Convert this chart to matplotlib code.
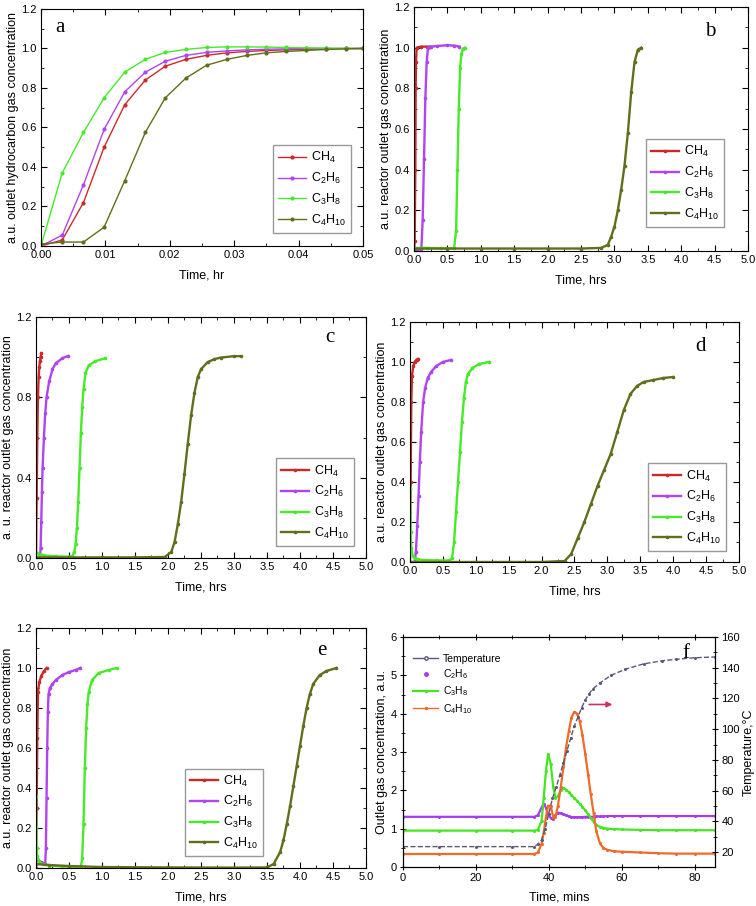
import matplotlib
matplotlib.use("Agg")
import matplotlib.pyplot as plt
from matplotlib.lines import Line2D
from matplotlib.ticker import MultipleLocator

plt.rcParams["font.family"] = ["Liberation Sans", "DejaVu Sans"]
plt.rcParams["mathtext.fontset"] = "custom"
plt.rcParams["mathtext.rm"] = "Liberation Sans"
plt.rcParams["mathtext.default"] = "regular"

LABELS = [r"CH$_4$", r"C$_2$H$_6$", r"C$_3$H$_8$", r"C$_4$H$_{10}$"]
COLORS = ["#cc2a2a", "#b144f0", "#47ea2a", "#5f6f1c"]

# ---- panel a ----
A_T = [0, 0.0033, 0.0066, 0.0098, 0.0130, 0.0162, 0.0193, 0.0225, 0.0257,
       0.0289, 0.0320, 0.0350, 0.0381, 0.0412, 0.0443, 0.0474, 0.05]
A_CH4 = [0.0, 0.03, 0.22, 0.50, 0.715, 0.84, 0.91, 0.945, 0.965, 0.978,
         0.985, 0.99, 0.993, 0.996, 0.998, 1.0, 1.0]
A_C2H6 = [0.0, 0.055, 0.31, 0.59, 0.78, 0.88, 0.935, 0.965, 0.98, 0.988,
          0.993, 0.996, 0.998, 1.0, 1.0, 1.0, 1.0]
A_C3H8 = [0.0, 0.37, 0.575, 0.75, 0.88, 0.945, 0.98, 0.995, 1.005, 1.008,
          1.008, 1.007, 1.005, 1.003, 1.002, 1.0, 1.0]
A_C4H10 = [0.01, 0.02, 0.02, 0.095, 0.33, 0.575, 0.75, 0.85, 0.915, 0.945,
           0.965, 0.978, 0.985, 0.99, 0.995, 0.998, 1.0]

# ---- panel b ----
B_CH4_T = [0, 0.01, 0.02, 0.025, 0.03, 0.04, 0.1, 0.2, 0.24]
B_CH4 = [0.0, 0.05, 0.4, 0.8, 0.93, 1.0, 1.005, 1.005, 1.005]
B_C2H6_T = [0, 0.05, 0.11, 0.13, 0.15, 0.17, 0.19, 0.21, 0.25, 0.35, 0.5, 0.6, 0.68]
B_C2H6 = [0.005, 0.005, 0.01, 0.15, 0.45, 0.75, 0.93, 1.0, 1.005, 1.008,
          1.012, 1.01, 1.005]
B_C3H8_T = [0, 0.2, 0.4, 0.6, 0.63, 0.65, 0.67, 0.69, 0.71, 0.73, 0.76]
B_C3H8 = [0.015, 0.015, 0.013, 0.013, 0.1, 0.4, 0.7, 0.9, 0.97, 0.995, 1.0]
B_C4H10_T = [0, 0.5, 1.0, 1.5, 2.0, 2.5, 2.8, 2.9, 2.95, 3.0, 3.05, 3.1,
             3.15, 3.2, 3.25, 3.3, 3.35, 3.4]
B_C4H10 = [0.012, 0.012, 0.012, 0.012, 0.012, 0.012, 0.015, 0.03, 0.07,
           0.12, 0.2, 0.3, 0.42, 0.58, 0.78, 0.93, 0.99, 1.0]

# ---- panel c ----
C_CH4_T = [0.0, 0.01, 0.02, 0.03, 0.04, 0.05, 0.06, 0.07, 0.08]
C_CH4 = [0.0, 0.3, 0.6, 0.8, 0.9, 0.95, 0.98, 1.0, 1.02]
C_C2H6_T = [0.06, 0.07, 0.08, 0.09, 0.1, 0.12, 0.14, 0.16, 0.2, 0.25, 0.3, 0.4, 0.48]
C_C2H6 = [0.0, 0.05, 0.18, 0.33, 0.45, 0.6, 0.72, 0.8, 0.88, 0.94, 0.97, 0.995, 1.005]
C_C3H8_T = [0, 0.05, 0.1, 0.2, 0.3, 0.4, 0.5, 0.55, 0.58, 0.6, 0.62, 0.64,
            0.66, 0.68, 0.7, 0.72, 0.75, 0.8, 0.9, 1.05]
C_C3H8 = [0.03, 0.02, 0.015, 0.01, 0.008, 0.007, 0.007, 0.01, 0.03, 0.07,
          0.15, 0.28, 0.45, 0.62, 0.75, 0.84, 0.92, 0.96, 0.98, 0.995]
C_C4H10_T = [0, 0.5, 1.0, 1.5, 1.95, 2.05, 2.1, 2.15, 2.2, 2.25, 2.3, 2.35,
             2.4, 2.45, 2.5, 2.6, 2.7, 2.8, 3.0, 3.1]
C_C4H10 = [0.003, 0.003, 0.003, 0.003, 0.005, 0.03, 0.08, 0.17, 0.28, 0.42,
           0.57, 0.71, 0.82, 0.9, 0.94, 0.975, 0.99, 0.998, 1.005, 1.005]

# ---- panel d ----
D_CH4_T = [0, 0.01, 0.02, 0.03, 0.05, 0.07, 0.1, 0.12]
D_CH4 = [0.0, 0.4, 0.8, 0.93, 0.98, 1.0, 1.012, 1.015]
D_C2H6_T = [0.07, 0.09, 0.11, 0.13, 0.15, 0.17, 0.2, 0.23, 0.27, 0.32, 0.4, 0.5, 0.62]
D_C2H6 = [0.0, 0.05, 0.18, 0.33, 0.5, 0.65, 0.8, 0.87, 0.92, 0.95, 0.98, 1.0, 1.01]
D_C3H8_T = [0.0, 0.005, 0.01, 0.02, 0.04, 0.07, 0.1, 0.2, 0.4, 0.6, 0.64,
            0.67, 0.7, 0.73, 0.76, 0.79, 0.82, 0.85, 0.88, 0.95, 1.05, 1.2]
D_C3H8 = [0.37, 0.25, 0.15, 0.07, 0.03, 0.02, 0.015, 0.01, 0.008, 0.008,
          0.02, 0.1, 0.25, 0.4, 0.55, 0.7, 0.82, 0.9, 0.94, 0.97, 0.99, 1.0]
D_C4H10_T = [0, 0.5, 1.0, 1.5, 2.0, 2.35, 2.45, 2.55, 2.65, 2.75, 2.85,
             2.95, 3.05, 3.15, 3.25, 3.35, 3.45, 3.55, 3.7, 3.85, 4.0]
D_C4H10 = [0.0, 0.0, 0.0, 0.0, 0.0, 0.005, 0.04, 0.12, 0.2, 0.29, 0.38,
           0.46, 0.54, 0.65, 0.76, 0.84, 0.88, 0.9, 0.91, 0.92, 0.925]

# ---- panel e ----
E_CH4_T = [0.0, 0.01, 0.02, 0.03, 0.05, 0.08, 0.12, 0.16]
E_CH4 = [0.0, 0.3, 0.65, 0.88, 0.93, 0.96, 0.985, 1.0]
E_C2H6_T = [0.0, 0.03, 0.07, 0.11, 0.14, 0.15, 0.16, 0.17, 0.18, 0.19,
            0.21, 0.25, 0.3, 0.4, 0.5, 0.6, 0.67]
E_C2H6 = [0.06, 0.04, 0.03, 0.025, 0.02, 0.1, 0.35, 0.6, 0.78, 0.87, 0.9,
          0.92, 0.94, 0.965, 0.98, 0.99, 1.0]
E_C3H8_T = [0.0, 0.005, 0.01, 0.02, 0.05, 0.1, 0.2, 0.4, 0.6, 0.68, 0.7,
            0.72, 0.74, 0.76, 0.78, 0.8, 0.85, 0.95, 1.1, 1.22]
E_C3H8 = [0.36, 0.2, 0.1, 0.06, 0.03, 0.02, 0.012, 0.008, 0.006, 0.008,
          0.05, 0.22, 0.5, 0.7, 0.82, 0.88, 0.94, 0.975, 0.99, 1.0]
E_C4H10_T = [0.0, 0.2, 0.5, 1.0, 2.0, 3.0, 3.5, 3.6, 3.7, 3.75, 3.8, 3.85,
             3.9, 3.95, 4.0, 4.05, 4.1, 4.15, 4.2, 4.3, 4.4, 4.55]
E_C4H10 = [0.02, 0.015, 0.01, 0.005, 0.003, 0.002, 0.003, 0.02, 0.08, 0.14,
           0.22, 0.31, 0.41, 0.51, 0.61, 0.71, 0.8, 0.87, 0.92, 0.965, 0.985, 1.0]

# ---- panel f ----
F_TEMP_T = [0, 10, 20, 30, 36, 37, 38, 39, 40, 41, 42, 43, 44, 45, 46, 47,
            48, 49, 50, 51, 52, 54, 57, 61, 66, 71, 75, 80, 85.5]
F_TEMP = [23.5, 23.5, 23.5, 23.5, 23.5, 25, 28, 35, 45, 55, 62, 70, 78, 86,
          94, 102, 108, 114, 119, 123, 126, 130, 135, 139, 142.5, 144.5,
          145.5, 146.5, 147]
F_T = [0, 10, 20, 30, 36, 37, 38, 38.6, 39.2, 39.8, 40.5, 41.2, 41.8, 42.5,
       43.3, 44, 44.7, 45.5, 46.2, 47, 47.8, 48.5, 49.2, 50, 50.8, 51.5,
       52.3, 53, 54, 55, 56, 58, 60, 65, 70, 75, 80, 85.5]
F_C2H6 = [1.31, 1.31, 1.31, 1.31, 1.31, 1.35, 1.55, 1.65, 1.55, 1.38, 1.28,
          1.25, 1.35, 1.42, 1.4, 1.38, 1.35, 1.32, 1.30, 1.30, 1.30, 1.30,
          1.30, 1.31, 1.31, 1.31, 1.31, 1.32, 1.32, 1.32, 1.33, 1.33, 1.33,
          1.33, 1.33, 1.33, 1.33, 1.33]
F_C3H8 = [0.95, 0.95, 0.95, 0.95, 0.95, 0.97, 1.2, 1.8, 2.5, 2.95, 2.7, 2.1,
          1.8, 1.85, 2.0, 2.07, 2.02, 1.95, 1.88, 1.8, 1.72, 1.65, 1.57, 1.48,
          1.38, 1.28, 1.18, 1.1, 1.05, 1.02, 1.0, 0.99, 0.98, 0.97, 0.96,
          0.96, 0.96, 0.96]
F_C4H10 = [0.34, 0.34, 0.34, 0.34, 0.34, 0.38, 0.6, 0.9, 1.3, 1.6, 1.6, 1.3,
           1.3, 1.6, 2.1, 2.6, 3.1, 3.55, 3.9, 4.05, 4.0, 3.8, 3.45, 2.95,
           2.4, 1.9, 1.4, 0.95, 0.62, 0.5, 0.45, 0.41, 0.4, 0.38, 0.36, 0.35,
           0.35, 0.35]

TICK_FS = 8
LABEL_FS = 9


def style_axes(ax, xmax, xmaj, xmin, ymaj, ymin, ymax=1.2):
    ax.set_xlim(0, xmax)
    ax.set_ylim(0, ymax)
    ax.xaxis.set_major_locator(MultipleLocator(xmaj))
    ax.xaxis.set_minor_locator(MultipleLocator(xmin))
    ax.yaxis.set_major_locator(MultipleLocator(ymaj))
    ax.yaxis.set_minor_locator(MultipleLocator(ymin))
    ax.tick_params(which="both", direction="in", top=True, right=True,
                   labelsize=TICK_FS, pad=3)
    ax.tick_params(which="major", length=4)
    ax.tick_params(which="minor", length=2)
    ax.xaxis.set_major_formatter(plt.FormatStrFormatter("%.1f"))
    ax.yaxis.set_major_formatter(plt.FormatStrFormatter("%.1f"))


def conc_panel(ax, series, letter, ylabel, xlabel, leg_anchor, letter_pos,
               lw=1.7, ms=1.6):
    for (t, y), lab, col in zip(series, LABELS, COLORS):
        ax.plot(t, y, "-", color=col, lw=lw, marker="o", ms=ms, label=lab)
    ax.set_xlabel(xlabel, fontsize=LABEL_FS, labelpad=7)
    ax.set_ylabel(ylabel, fontsize=LABEL_FS, labelpad=2)
    ax.legend(loc="lower right", bbox_to_anchor=leg_anchor, fontsize=9,
              fancybox=False, edgecolor="#808080", handlelength=2.2,
              borderpad=0.4, labelspacing=0.45, handletextpad=0.4)
    ax.text(letter_pos[0], letter_pos[1], letter, transform=ax.transAxes,
            family="Liberation Serif", fontsize=15, ha="center", va="center")


fig = plt.figure(figsize=(7.56, 9.06), dpi=100)

ax_a = fig.add_axes([0.0542, 0.7285, 0.426, 0.2616])
style_axes(ax_a, 0.05, 0.01, 0.005, 0.2, 0.1)
ax_a.xaxis.set_major_formatter(plt.FormatStrFormatter("%.2f"))
conc_panel(ax_a, [(A_T, A_CH4), (A_T, A_C2H6), (A_T, A_C3H8), (A_T, A_C4H10)],
           "a", "a.u. outlet hydrocarbon gas concentration", "Time, hr",
           (0.981, 0.03), (0.059, 0.92), lw=1.0, ms=2.0)

ax_b = fig.add_axes([0.5476, 0.7230, 0.4420, 0.2693])
style_axes(ax_b, 5.0, 0.5, 0.25, 0.2, 0.1)
conc_panel(ax_b, [(B_CH4_T, B_CH4), (B_C2H6_T, B_C2H6), (B_C3H8_T, B_C3H8),
                  (B_C4H10_T, B_C4H10)],
           "b", "a.u. reactor outlet gas concentration", "Time, hrs",
           (0.945, 0.074), (0.885, 0.898))

ax_c = fig.add_axes([0.0476, 0.3841, 0.4365, 0.2660])
style_axes(ax_c, 5.0, 0.5, 0.25, 0.4, 0.2)
conc_panel(ax_c, [(C_CH4_T, C_CH4), (C_C2H6_T, C_C2H6), (C_C3H8_T, C_C3H8),
                  (C_C4H10_T, C_C4H10)],
           "c", "a. u. reactor outlet gas concentration", "Time, hrs",
           (0.982, 0.025), (0.891, 0.913))

ax_d = fig.add_axes([0.5423, 0.3797, 0.4352, 0.2649])
style_axes(ax_d, 5.0, 0.5, 0.25, 0.2, 0.1)
conc_panel(ax_d, [(D_CH4_T, D_CH4), (D_C2H6_T, D_C2H6), (D_C3H8_T, D_C3H8),
                  (D_C4H10_T, D_C4H10)],
           "d", "a.u. reactor outlet gas concentration", "Time, hrs",
           (0.979, 0.021), (0.884, 0.896))

ax_e = fig.add_axes([0.0476, 0.0419, 0.4365, 0.2649])
style_axes(ax_e, 5.0, 0.5, 0.25, 0.2, 0.1)
conc_panel(ax_e, [(E_CH4_T, E_CH4), (E_C2H6_T, E_C2H6), (E_C3H8_T, E_C3H8),
                  (E_C4H10_T, E_C4H10)],
           "e", "a.u. reactor outlet gas concentration", "Time, hrs",
           (0.706, 0.025), (0.867, 0.908))

# ---- panel f: gases on left axis, temperature on right ----
ax_f = fig.add_axes([0.5331, 0.0430, 0.4127, 0.2539])
ax_f.set_xlim(0, 85.6)
ax_f.set_ylim(0, 6)
ax_f.xaxis.set_major_locator(MultipleLocator(20))
ax_f.xaxis.set_minor_locator(MultipleLocator(10))
ax_f.yaxis.set_major_locator(MultipleLocator(1))
ax_f.yaxis.set_minor_locator(MultipleLocator(0.5))
ax_f.tick_params(which="both", direction="inout", top=True, labelsize=TICK_FS, pad=2)
ax_f.tick_params(which="major", length=5)
ax_f.tick_params(which="minor", length=3)

ax_t = ax_f.twinx()
ax_t.set_ylim(10.2, 160)
ax_t.yaxis.set_major_locator(MultipleLocator(20))
ax_t.yaxis.set_minor_locator(MultipleLocator(10))
ax_t.tick_params(which="both", direction="inout", labelsize=TICK_FS, pad=2)
ax_t.tick_params(which="major", length=5)
ax_t.tick_params(which="minor", length=3)

temp_col = "#5a5a78"
ax_t.plot(F_TEMP_T, F_TEMP, "--", color=temp_col, lw=1.0, marker="o", ms=1.2)
ax_f.plot(F_T, F_C2H6, "-", color="#a63cf0", lw=1.6, marker="o", ms=1.2)
ax_f.plot(F_T, F_C3H8, "-", color="#44e622", lw=1.6, marker="o", ms=1.2)
ax_f.plot(F_T, F_C4H10, "-", color="#f06a2a", lw=1.6, marker="o", ms=1.2)

ax_f.annotate("", xy=(58.2, 4.24), xytext=(50.3, 4.24),
              arrowprops=dict(arrowstyle="-|>", color="#d0306a", lw=1.2,
                              mutation_scale=8))

handles = [
    Line2D([], [], color=temp_col, lw=1.0, marker="o", ms=2.5, mfc="white"),
    Line2D([], [], color="#a63cf0", ls="none", marker="o", ms=2.5),
    Line2D([], [], color="#44e622", lw=1.6, marker="o", ms=1.5),
    Line2D([], [], color="#f06a2a", lw=1.0, marker="o", ms=1.5),
]
ax_f.legend(handles, ["Temperature", LABELS[1], LABELS[2], LABELS[3]],
            loc="upper left", bbox_to_anchor=(0.01, 0.96), frameon=False,
            fontsize=7.5, handlelength=2.4, labelspacing=0.35, borderpad=0.2,
            handletextpad=0.4)
ax_f.text(0.907, 0.93, "f", transform=ax_f.transAxes, family="Liberation Serif",
          fontsize=15, ha="center", va="center")
ax_f.set_xlabel("Time, mins", fontsize=LABEL_FS, labelpad=6)
ax_f.set_ylabel("Outlet gas concentration, a.u.", fontsize=LABEL_FS, labelpad=2)
ax_t.set_ylabel("Temperature,\u00b0C", fontsize=LABEL_FS, labelpad=2)

fig.savefig("out.png", dpi=100)
